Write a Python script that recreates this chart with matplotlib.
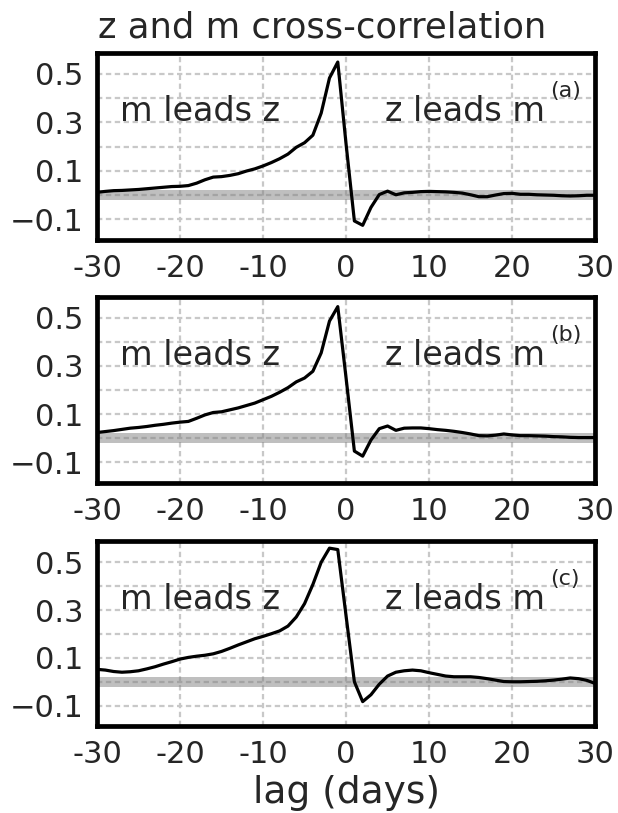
import numpy as np
import matplotlib
matplotlib.use('Agg')
import matplotlib.pyplot as plt
from matplotlib.ticker import FixedLocator

FIGSIZE = (6.18, 8.13)
DPI = 100
TEXT_COLOR = '#262626'
GRID_COLOR = '#c8c8c8'

LAGS = np.arange(-30, 31)

CORR_A = [0.011, 0.015, 0.018, 0.019, 0.021, 0.023, 0.026, 0.029, 0.032, 0.035,
          0.036, 0.039, 0.049, 0.063, 0.074, 0.076, 0.081, 0.088, 0.099, 0.108,
          0.120, 0.134, 0.150, 0.169, 0.197, 0.216, 0.247, 0.338, 0.483, 0.549,
          0.210, -0.107, -0.125, -0.051, 0.002, 0.016, 0.001, 0.009, 0.011, 0.014,
          0.015, 0.014, 0.013, 0.011, 0.008, 0.001, -0.007, -0.007, 0.000, 0.006,
          0.007, 0.003, 0.003, 0.001, 0.000, -0.001, -0.003, -0.004, -0.003, -0.001,
          -0.001]

CORR_B = [0.024, 0.028, 0.032, 0.037, 0.042, 0.045, 0.049, 0.054, 0.058, 0.063,
          0.067, 0.070, 0.083, 0.097, 0.107, 0.110, 0.118, 0.126, 0.136, 0.146,
          0.160, 0.174, 0.191, 0.210, 0.234, 0.250, 0.278, 0.354, 0.486, 0.546,
          0.250, -0.053, -0.074, -0.007, 0.040, 0.051, 0.033, 0.042, 0.043, 0.043,
          0.040, 0.036, 0.033, 0.029, 0.024, 0.018, 0.011, 0.010, 0.013, 0.018,
          0.014, 0.011, 0.011, 0.010, 0.009, 0.007, 0.006, 0.004, 0.003, 0.003,
          0.003]

CORR_C = [0.052, 0.049, 0.043, 0.040, 0.042, 0.046, 0.054, 0.063, 0.074, 0.084,
          0.095, 0.102, 0.107, 0.111, 0.117, 0.127, 0.140, 0.154, 0.167, 0.180,
          0.190, 0.201, 0.213, 0.233, 0.271, 0.327, 0.407, 0.500, 0.559, 0.553,
          0.275, 0.000, -0.083, -0.054, -0.010, 0.024, 0.040, 0.046, 0.049, 0.046,
          0.038, 0.031, 0.024, 0.021, 0.021, 0.021, 0.018, 0.013, 0.007, 0.001,
          0.000, 0.000, 0.001, 0.002, 0.004, 0.007, 0.011, 0.016, 0.013, 0.006,
          -0.007]

PANEL_LABELS = ['(a)', '(b)', '(c)']
XTICKS = [-30, -20, -10, 0, 10, 20, 30]
XTICK_LABELS = ['-30', '-20', '-10', '0', '10', '20', '30']
YTICKS = [-0.1, 0.1, 0.3, 0.5]
YMINOR = [0.0, 0.2, 0.4]

# axes boxes in figure fractions: left, bottom, width, height
AX_BOXES = [
    [0.157, 0.705, 0.806, 0.230],
    [0.157, 0.406, 0.806, 0.229],
    [0.157, 0.107, 0.806, 0.227],
]


def plot_panel(ax, values, label):
    ax.axhspan(-0.02, 0.02, color='grey', alpha=0.5, lw=0, zorder=1)
    ax.plot(LAGS, values, color='black', lw=2.3, zorder=3)

    ax.set_xlim(-30, 30)
    ax.set_ylim(-0.185, 0.587)
    ax.set_xticks(XTICKS)
    ax.set_xticklabels(XTICK_LABELS)
    ax.yaxis.set_major_locator(FixedLocator(YTICKS))
    ax.yaxis.set_minor_locator(FixedLocator(YMINOR))
    ax.set_yticklabels(['\u22120.1', '0.1', '0.3', '0.5'])

    ax.set_axisbelow(True)
    ax.grid(True, which='both', color=GRID_COLOR, lw=1.6,
            linestyle=(0, (2.4, 1.6)))
    ax.tick_params(which='both', length=0, labelsize=22,
                   labelcolor=TEXT_COLOR, pad=10)
    for s in ax.spines.values():
        s.set_linewidth(3.4)
        s.set_color('black')

    ax.text(-27.2, 0.305, 'm leads z', fontsize=24, color=TEXT_COLOR)
    ax.text(4.7, 0.305, 'z leads m', fontsize=24, color=TEXT_COLOR)
    ax.text(24.6, 0.405, label, fontsize=16, color=TEXT_COLOR)


if __name__ == '__main__':
    fig = plt.figure(figsize=FIGSIZE, dpi=DPI)
    for box, values, label in zip(AX_BOXES, [CORR_A, CORR_B, CORR_C],
                                  PANEL_LABELS):
        ax = fig.add_axes(box)
        plot_panel(ax, values, label)

    fig.text(0.522, 1 - 38 / 813, 'z and m cross-correlation', fontsize=25.5,
             color=TEXT_COLOR, ha='center', va='baseline')
    fig.text(0.56, 1 - 803 / 813, 'lag (days)', fontsize=27,
             color=TEXT_COLOR, ha='center', va='baseline')

    fig.savefig('out.png', dpi=DPI)
    plt.close(fig)
